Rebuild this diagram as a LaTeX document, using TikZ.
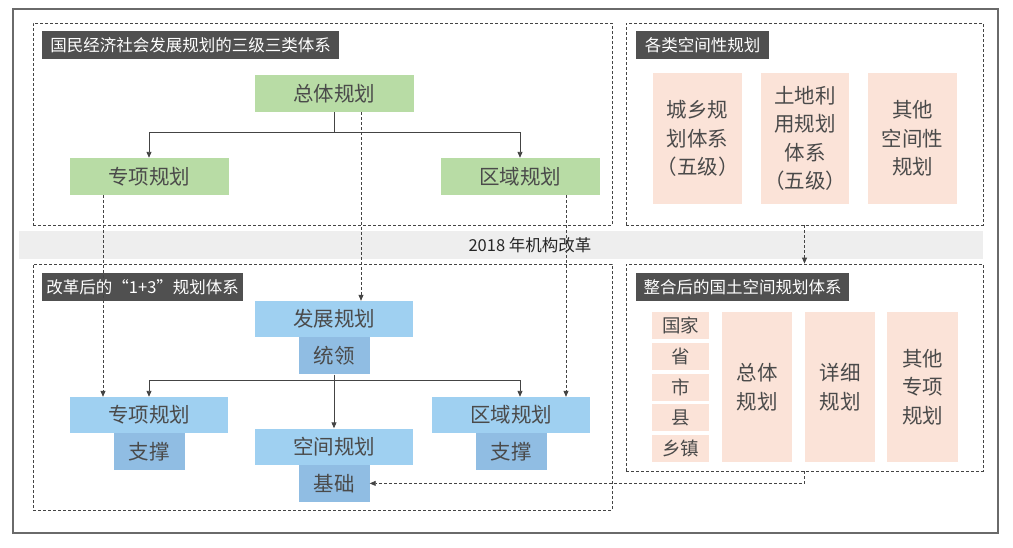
\documentclass[tikz,border=0pt]{standalone}
\usepackage{fontspec}
\setmainfont{Noto Sans CJK SC}
\usetikzlibrary{arrows.meta}

\definecolor{framegray}{HTML}{6A6A6A}
\definecolor{linegray}{HTML}{444444}
\definecolor{textgray}{HTML}{4A4A4A}
\definecolor{titlegray}{HTML}{505050}
\definecolor{bandgray}{HTML}{EEEEEE}
\definecolor{oldgreen}{HTML}{B8DCA5}
\definecolor{newblue}{HTML}{9FD0F1}
\definecolor{subblue}{HTML}{90BDE3}
\definecolor{peach}{HTML}{FBE3D8}

\newcommand\planfont{\fontsize{20.5}{28.5}\selectfont}
\newcommand\ttlfont{\fontsize{16.5}{20}\selectfont}

\begin{document}
\begin{tikzpicture}[
    x=1pt, y=-1pt,
    every node/.style={inner sep=0pt, text=textgray},
    group/.style={rectangle, draw=linegray, line width=0.8pt, dash pattern=on 3pt off 2pt},
    title/.style={rectangle, fill=titlegray, text=white, font=\ttlfont, minimum height=28pt, anchor=north west},
    oldbox/.style={rectangle, fill=oldgreen, font=\planfont, minimum width=159pt, minimum height=37pt},
    newbox/.style={rectangle, fill=newblue, font=\planfont, minimum width=158pt, minimum height=36pt},
    newsub/.style={rectangle, fill=subblue, font=\planfont, minimum width=71pt, minimum height=37pt},
    spacebox/.style={rectangle, fill=peach, font=\planfont, align=center},
    levelbox/.style={rectangle, fill=peach, font=\fontsize{18.5}{22}\selectfont, minimum width=57pt, minimum height=27pt},
    tree/.style={draw=linegray, line width=0.9pt},
    link/.style={draw=linegray, line width=0.8pt, dash pattern=on 3pt off 2pt, -{Triangle[length=6pt,width=5pt]}},
    tip/.style={-{Triangle[length=6pt,width=5pt]}}
]
\useasboundingbox (0,0) rectangle (1013,547);
\fill[white] (0,0) rectangle (1013,547);

% Outer frame
\draw[framegray, line width=1.3pt] (13,9) rectangle (998,533);

% Groups
\node[group, minimum width=579pt, minimum height=202pt] (oldsys) at (322.5,124) {};
\node[group, minimum width=357pt, minimum height=202pt] (spaceall) at (804.5,124) {};
\node[group, minimum width=579pt, minimum height=246pt] (newsys) at (322.5,387) {};
\node[group, minimum width=357pt, minimum height=207pt] (landsys) at (804.5,367.5) {};

% Titles
\node[title, minimum width=297pt] (oldttl) at (42,31) {国民经济社会发展规划的三级三类体系};
\node[title, minimum width=133pt] (spacettl) at (636,31) {各类空间性规划};
\node[title, minimum width=201pt] (newttl) at (42,273) {改革后的“1+3”规划体系};
\node[title, minimum width=213pt] (landttl) at (636,273) {整合后的国土空间规划体系};

% Reform band
\node[rectangle, fill=bandgray, minimum width=964pt, minimum height=28pt] (band) at (501,245) {};
\node[font=\fontsize{16.5}{20}\selectfont, text=black!85] (reform) at (530,245) {2018 年机构改革};

% Old system
\node[oldbox] (oldall) at (334,93.5) {总体规划};
\node[oldbox] (oldspec) at (149,176.5) {专项规划};
\node[oldbox] (oldreg) at (520,176.5) {区域规划};

\coordinate (oldjoin) at (334,132);
\draw[tree] (oldall) -- (oldjoin);
\draw[tree, tip] (oldjoin) -| (oldspec);
\draw[tree, tip] (oldjoin) -| (oldreg);

% Spatial plans
\node[spacebox, minimum width=89pt, minimum height=131pt] (citysys) at (697.5,138.5) {城乡规\\划体系\\（五级）};
\node[spacebox, minimum width=88pt, minimum height=131pt] (landuse) at (805,138.5) {土地利\\用规划\\体系\\（五级）};
\node[spacebox, minimum width=89pt, minimum height=131pt] (otherspace) at (912.5,138.5) {其他\\空间性\\规划};

% New system
\node[newbox] (newdev) at (334,319) {发展规划};
\node[newsub, anchor=north] (newlead) at (newdev.south) {统领};
\node[newbox] (newspec) at (149,415) {专项规划};
\node[newsub, anchor=north] (newsup1) at (newspec.south) {支撑};
\node[newbox] (newspace) at (334,446.5) {空间规划};
\node[newsub, anchor=north] (newbase) at (newspace.south) {基础};
\node[newbox] (newreg) at (511,415) {区域规划};
\node[newsub, anchor=north] (newsup2) at (newreg.south) {支撑};

\coordinate (newjoin) at (334,380);
\draw[tree] (newlead) -- (newjoin);
\draw[tree, tip] (newjoin) -| (newspec);
\draw[tree, tip] (newjoin) -- (newspace);
\draw[tree, tip] (newjoin) -| ([xshift=9pt]newreg.north);

% Land spatial system
\node[levelbox] (lvl1) at (680.5,325.5) {国家};
\node[levelbox] (lvl2) at (680.5,356.25) {省};
\node[levelbox] (lvl3) at (680.5,387) {市};
\node[levelbox] (lvl4) at (680.5,417.75) {县};
\node[levelbox] (lvl5) at (680.5,448.5) {乡镇};
\node[spacebox, minimum width=70pt, minimum height=150pt] (landall) at (757,387) {总体\\规划};
\node[spacebox, minimum width=70pt, minimum height=150pt] (landdet) at (840,387) {详细\\规划};
\node[spacebox, minimum width=71pt, minimum height=150pt] (landspec) at (922.5,387) {其他\\专项\\规划};

% Dashed links
\draw[link] ([xshift=27pt]oldall.south) -- ([xshift=27pt]newdev.north);
\draw[link] ([xshift=-46pt]oldspec.south) -- ([xshift=-46pt]newspec.north);
\draw[link] ([xshift=46pt]oldreg.south) -- ([xshift=55pt]newreg.north);
\draw[link] (spaceall.south) -- (landsys.north);
\draw[link] (landsys.south) |- (newbase.east);

\end{tikzpicture}
\end{document}
